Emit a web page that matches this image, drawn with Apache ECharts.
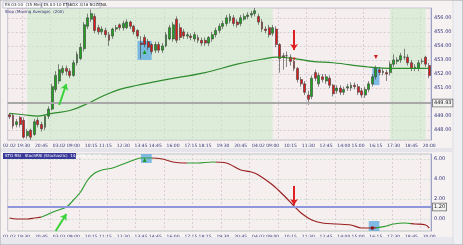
<!DOCTYPE html>
<html><head><meta charset="utf-8">
<script src="https://cdn.jsdelivr.net/npm/echarts@6/dist/echarts.min.js"></script>
<style>html,body{margin:0;padding:0;background:#fff}#c{width:463px;height:245px}</style>
</head><body><div id="c"></div>
<script>
// sessions of 15-minute bars: [date, first bar minute, last bar minute]
const sessions = [['02.02', 1110, 1305], ['03.02', 480, 1305], ['04.02', 480, 1200]];
const categories = [];
sessions.forEach(([d, a, b]) => { for (let m = a; m <= b; m += 15) categories.push(d + ' ' + String(Math.floor(m / 60)).padStart(2, '0') + ':' + String(m % 60).padStart(2, '0')); });

const tickTimes = ['02.02 18:30','02.02 19:30','02.02 20:45','03.02 08:00','03.02 09:00','03.02 10:15','03.02 11:15','03.02 12:30','03.02 13:45','03.02 14:45','03.02 16:00','03.02 17:15','03.02 18:15','03.02 19:30','03.02 20:45','04.02 08:00','04.02 09:00','04.02 10:15','04.02 11:30','04.02 12:45','04.02 14:00','04.02 15:00','04.02 16:15','04.02 17:30','04.02 18:45','04.02 20:00'];
const dateTicks = ['02.02 18:30','03.02 08:00','04.02 08:00'];

const opens  = [449.1,449.05,448.4,448.9,448.7,447.6,448.0,447.7,448.7,448.4,448.2,449.0,449.5,450.9,451.5,452.1,452.4,452.2,451.9,452.8,453.1,453.8,455.4,455.9,456.1,455.3,455.0,455.1,454.8,454.7,455.2,455.5,455.3,455.3,455.7,455.4,455.1,454.2,454.6,454.3,454.1,453.7,454.1,453.7,454.0,454.5,454.5,455.9,455.3,455.0,454.7,454.7,454.5,454.6,454.4,454.4,454.2,454.5,454.8,455.1,455.4,455.6,455.8,456.0,455.7,455.6,455.9,456.1,456.2,456.3,456.1,455.7,455.2,455.3,454.9,455.2,454.1,453.3,453.3,453.2,452.9,452.4,451.6,451.3,450.5,450.4,452.1,451.3,451.8,451.5,451.7,451.2,450.8,451.0,450.7,451.0,451.0,451.2,451.1,450.8,450.5,450.9,451.3,451.8,452.3,452.1,452.1,452.1,452.7,452.9,453.0,453.2,453.2,452.8,452.4,452.4,452.9,453.2,452.6];
const closes = [448.95,448.3,448.6,448.4,447.5,447.9,447.5,448.6,448.4,448.1,449.0,449.5,451.1,451.9,452.3,452.4,452.2,451.9,452.8,453.4,453.9,455.5,456.0,456.3,455.1,455.0,455.2,454.8,454.4,455.2,455.3,455.3,455.6,455.7,455.4,455.0,454.7,454.1,454.1,453.9,453.6,454.1,453.7,454.0,454.8,455.3,455.5,454.4,454.6,454.7,454.8,454.6,454.8,454.4,454.2,454.2,454.6,454.8,455.1,455.4,455.6,456.0,456.1,455.6,455.5,456.0,456.1,456.2,456.3,456.5,455.7,455.2,455.1,454.8,455.3,454.1,453.1,453.2,453.3,452.9,452.4,451.6,451.3,450.7,450.2,451.7,451.7,451.9,451.6,451.8,451.2,450.6,451.0,450.7,450.9,451.1,451.2,451.1,450.7,450.5,450.9,451.3,451.8,452.4,452.1,452.2,452.0,452.7,453.0,453.0,453.3,453.2,452.8,452.4,452.5,452.8,452.9,452.7,451.9];
const highs  = [449.2,449.2,448.8,449.0,448.9,448.1,448.1,448.8,448.9,448.6,449.1,449.7,451.3,452.2,452.7,452.6,452.6,452.4,453.0,453.6,454.2,455.7,456.3,456.6,456.3,455.5,455.4,455.3,455.0,455.3,455.5,455.6,455.8,455.9,455.8,455.5,455.2,454.7,454.8,454.5,454.2,454.3,454.3,454.2,455.0,455.5,455.7,456.1,455.6,455.2,455.0,454.9,455.0,454.8,454.6,454.6,454.7,455.0,455.3,455.6,455.8,456.2,456.3,456.2,455.9,456.2,456.3,456.4,456.5,456.7,456.3,455.9,455.4,455.5,455.5,455.4,454.2,453.5,453.6,453.4,453.0,452.5,451.8,451.5,450.8,451.9,452.3,452.1,452.0,452.0,451.9,451.3,451.2,451.2,451.1,451.3,451.4,451.4,451.3,451.0,451.1,451.5,452.0,452.6,452.5,452.4,452.3,452.9,453.4,453.2,453.5,453.8,453.4,453.0,452.7,453.0,453.1,453.3,452.8];
const lows   = [448.8,448.1,448.2,448.2,447.4,447.4,447.3,447.6,448.2,447.9,448.0,448.8,449.4,450.7,451.3,451.9,451.9,451.7,451.8,452.6,453.0,453.6,455.2,455.7,454.9,454.8,454.8,454.6,454.0,454.5,455.0,455.1,455.1,455.2,455.2,454.8,454.5,453.1,453.9,453.7,453.4,453.5,453.5,453.5,453.9,454.4,454.3,454.2,454.4,454.5,454.5,454.4,454.3,454.2,454.0,454.0,454.0,454.3,454.6,454.9,455.2,455.4,455.6,455.4,455.3,455.4,455.8,455.9,456.0,456.1,455.5,455.0,454.9,454.6,454.7,453.9,452.1,452.3,452.5,452.6,452.2,451.4,451.1,450.5,449.8,450.2,451.5,451.1,451.4,451.3,451.0,450.4,450.6,450.5,450.5,450.8,450.8,450.9,450.5,450.3,450.3,450.7,451.1,451.6,451.9,451.9,451.5,451.9,452.5,452.7,452.8,453.0,452.6,452.2,452.2,452.2,452.7,452.5,451.7];

// moving average, read at selected bars: [bar index, value]
const maPoints = [[0,449.2],[4,449.1],[8,449.0],[12,449.2],[17,449.4],[22,449.9],[26,450.4],[31,450.9],[36,451.2],[40,451.4],[44,451.6],[55,452.1],[64,452.7],[72,453.1],[75,453.2],[80,453.1],[85,452.9],[91,452.8],[101,452.5],[108,452.4],[118,452.4]];

// oscillator in lower panel: [bar index, value]
const oscPoints = [[0,0.1],[2,0.0],[5,0.0],[7,0.1],[9,0.2],[11,0.5],[13,0.8],[16,1.2],[18,1.9],[20,2.7],[22,3.9],[24,4.6],[26,4.9],[29,5.1],[32,5.5],[35,5.9],[37,6.1],[40,6.1],[43,6.0],[46,5.7],[49,5.6],[53,5.6],[57,5.7],[61,5.6],[65,4.9],[68,4.7],[70,4.4],[74,3.4],[77,2.4],[80,1.3],[82,0.6],[85,-0.1],[88,-0.4],[92,-0.5],[96,-0.6],[99,-0.9],[102,-0.9],[106,-0.7],[108,-0.5],[111,-0.4],[114,-0.5],[117,-0.6],[118,-0.9]];
// rising / falling segments of the oscillator (bar index ranges)
const oscSegments = [[0,9,'down'],[9,40,'up'],[40,50,'down'],[50,58,'up'],[58,103,'down'],[103,113,'up'],[113,119,'down']];

const greenZones = [[5,74],[107,117]];
const priceLevel = 449.93;
const oscLevel = 1.2;

const tickSet = new Set(tickTimes), dateSet = new Set(dateTicks);
const FONT = 'DejaVu Sans';
const labelColor = '#34347a';
const C = (i) => categories[i];

const candleData = opens.map((o, i) => [o, closes[i], lows[i], highs[i]]);
const lastClose = closes[closes.length - 1];
const lastOsc = oscPoints[oscPoints.length - 1][1];

const xCommon = (gi) => ({
  type: 'category', gridIndex: gi, data: categories, boundaryGap: true,
  axisLine: { show: false }, axisTick: { show: false },
  axisLabel: { interval: (i, v) => tickSet.has(v), formatter: v => dateSet.has(v) ? v.slice(0, 5) : v.slice(6), fontSize: 4.5, color: labelColor, margin: 3, fontFamily: FONT },
  splitLine: { show: true, interval: (i) => i % 8 === 4, lineStyle: { color: '#d9cfd2', type: [2, 2], width: 1 } }
});

const boxLabel = (txt, border) => ({ show: true, position: 'end', formatter: txt, fontSize: 5, color: '#222', backgroundColor: '#f2f2f2', borderColor: border, borderWidth: 0.8, padding: [1, 1], fontFamily: FONT, distance: 2 });

const option = {
  animation: false,
  backgroundColor: '#f6f2f2',
  grid: [
    { left: 3, top: 8, width: 428, height: 132, show: true, backgroundColor: '#f5eeee', borderColor: '#b8b8c8', borderWidth: 0.8 },
    { left: 3, top: 154, width: 428, height: 77, show: true, backgroundColor: '#f5efef', borderColor: '#b8b8c8', borderWidth: 0.8 }
  ],
  xAxis: [xCommon(0), xCommon(1)],
  yAxis: [
    { type: 'value', gridIndex: 0, position: 'right', min: 447.3, max: 456.7, minInterval: 1, maxInterval: 1, scale: true,
      axisLine: { show: true, lineStyle: { color: '#9aa0c8' } }, axisTick: { show: false },
      axisLabel: { fontSize: 5, color: labelColor, margin: 3, formatter: v => v.toFixed(2), showMinLabel: false, showMaxLabel: false, fontFamily: FONT },
      splitLine: { lineStyle: { color: '#d6cccf', type: [2, 2] } } },
    { type: 'value', gridIndex: 1, position: 'right', min: -1.2, max: 6.5, minInterval: 2, maxInterval: 2,
      axisLine: { show: true, lineStyle: { color: '#9aa0c8' } }, axisTick: { show: false },
      axisLabel: { fontSize: 5, color: labelColor, margin: 3, formatter: v => v.toFixed(2), showMinLabel: false, showMaxLabel: false, fontFamily: FONT },
      splitLine: { lineStyle: { color: '#cfe0cf', type: [2, 2] } } }
  ],
  visualMap: [{
    type: 'piecewise', show: false, seriesIndex: 2, dimension: 0,
    pieces: oscSegments.map(([a, b, t]) => ({ gte: a, lt: b, color: t === 'up' ? '#2f9a2f' : '#9a2020' }))
  }],
  series: [
    {
      type: 'candlestick', xAxisIndex: 0, yAxisIndex: 0, data: candleData, barWidth: 2.4,
      itemStyle: { color: '#1aa51a', color0: '#e01818', borderColor: '#3a3a3a', borderColor0: '#3a3a3a', borderWidth: 0.6 },
      markArea: { silent: true, data: [
        ...greenZones.map(([a, b]) => [{ xAxis: C(a), itemStyle: { color: 'rgba(200,235,200,0.55)' } }, { xAxis: C(b) }]),
        [{ coord: [36, 454.36], itemStyle: { color: 'rgba(90,170,225,0.75)' } }, { coord: [40, 453.0] }],
        [{ coord: [102, 452.43], itemStyle: { color: 'rgba(90,170,225,0.75)' } }, { coord: [104, 451.21] }]
      ] },
      markLine: { silent: true, symbol: 'none', data: [
        { yAxis: priceLevel, lineStyle: { color: '#a8a8a8', width: 2, type: 'solid' }, label: boxLabel(priceLevel.toFixed(2), '#666') },
        { yAxis: lastClose, lineStyle: { opacity: 0 }, label: boxLabel(lastClose.toFixed(2), '#222') },
        [{ coord: [14, 449.79], symbol: 'none', lineStyle: { color: '#3ad23a', width: 2, type: 'solid' }, label: { show: false } }, { coord: [16, 451.29], symbol: 'arrow', symbolSize: 6 }],
        [{ coord: [80, 455.14], symbol: 'none', lineStyle: { color: '#e02020', width: 2, type: 'solid' }, label: { show: false } }, { coord: [80, 453.71], symbol: 'arrow', symbolSize: 6 }]
      ] },
      markPoint: { silent: true, label: { show: false }, data: [
        { coord: [38, 453.57], symbol: 'triangle', symbolSize: 4, itemStyle: { color: '#1a9a1a' } },
        { coord: [103, 453.21], symbol: 'triangle', symbolRotate: 180, symbolSize: 4, itemStyle: { color: '#d02020' } },
        { coord: [80, 453.07], symbol: 'triangle', symbolRotate: 180, symbolSize: 3, itemStyle: { color: '#d02020' } }
      ] }
    },
    {
      type: 'line', xAxisIndex: 0, yAxisIndex: 0, data: maPoints, smooth: 0.4, symbol: 'none',
      lineStyle: { color: '#2e8b2e', width: 1.2 }, z: 3
    },
    {
      type: 'line', xAxisIndex: 1, yAxisIndex: 1, data: oscPoints, smooth: 0.3, symbol: 'none',
      lineStyle: { width: 1.2 },
      markArea: { silent: true, data: [
        [{ coord: [37, 6.5], itemStyle: { color: 'rgba(90,170,225,0.75)' } }, { coord: [40, 5.6] }],
        [{ coord: [101, -0.2], itemStyle: { color: 'rgba(90,170,225,0.75)' } }, { coord: [104, -1.2] }]
      ] },
      markLine: { silent: true, symbol: 'none', data: [
        { yAxis: oscLevel, lineStyle: { color: '#8e96dc', width: 2, type: 'solid' }, label: boxLabel(oscLevel.toFixed(2), '#666') },
        { yAxis: lastOsc, lineStyle: { opacity: 0 }, label: boxLabel(lastOsc.toFixed(2), '#222') },
        [{ coord: [13, -1.2], symbol: 'none', lineStyle: { color: '#3ad23a', width: 2, type: 'solid' }, label: { show: false } }, { coord: [16, 0.5], symbol: 'arrow', symbolSize: 6 }],
        [{ coord: [80, 3.3], symbol: 'none', lineStyle: { color: '#e02020', width: 2, type: 'solid' }, label: { show: false } }, { coord: [80, 1.4], symbol: 'arrow', symbolSize: 6 }]
      ] },
      markPoint: { silent: true, label: { show: false }, data: [
        { coord: [38, 5.9], symbol: 'triangle', symbolSize: 4, itemStyle: { color: '#1a9a1a' } },
        { coord: [102, -0.9], symbol: 'rect', symbolSize: 3, itemStyle: { color: '#8a1010' } }
      ] }
    }
  ],
  graphic: [
    { type: 'rect', shape: { x: 0, y: 0, width: 463, height: 245 }, style: { fill: 'none', stroke: '#a8a8a8', lineWidth: 1 }, silent: true, z: 100 },
    { type: 'rect', shape: { x: 0, y: 148, width: 452, height: 4 }, style: { fill: '#e4e4ea' }, silent: true, z: 5 },
    { type: 'rect', shape: { x: 0, y: 237, width: 463, height: 8 }, style: { fill: '#e8e8ee' }, silent: true, z: 5 },
    { type: 'rect', shape: { x: 453, y: 0, width: 10, height: 245 }, style: { fill: '#f0f0f4', stroke: '#c8c8d0', lineWidth: 0.5 }, silent: true, z: 5 },
    { type: 'rect', shape: { x: 3, y: 2, width: 38, height: 6 }, style: { fill: '#ffffff', stroke: '#8c8cb0', lineWidth: 0.5 }, z: 20 },
    { type: 'text', left: 5, top: 2.5, style: { text: 'ES 03-10  (15 Min)', fontSize: 4, fill: '#222', fontFamily: FONT }, z: 21 },
    { type: 'rect', shape: { x: 42, y: 2, width: 25, height: 6 }, style: { fill: '#ffffff', stroke: '#8c8cb0', lineWidth: 0.5 }, z: 20 },
    { type: 'text', left: 43.5, top: 2.5, style: { text: 'ES 03-10 ETH', fontSize: 4, fill: '#222', fontFamily: FONT }, z: 21 },
    { type: 'rect', shape: { x: 68, y: 2, width: 32, height: 6 }, style: { fill: '#ffffff', stroke: '#8c8cb0', lineWidth: 0.5 }, z: 20 },
    { type: 'text', left: 69.5, top: 2.5, style: { text: 'ADX 3/16 BOZENA', fontSize: 4, fill: '#222', fontFamily: FONT }, z: 21 },
    { type: 'text', left: 5, top: 9.5, style: { text: 'Stop (Moving Average)  (200)', fontSize: 4, fill: '#303070', fontFamily: FONT }, z: 21 },
    { type: 'rect', shape: { x: 3, y: 153, width: 73, height: 6 }, style: { fill: '#3a3a9a' }, z: 20 },
    { type: 'text', left: 5, top: 153.7, style: { text: 'STO RSI   StochRSI (Stochastic)  14, 200, 3, 3, 3', fontSize: 4, fill: '#ffffff', fontFamily: FONT }, z: 21 }
  ]
};
echarts.init(document.getElementById('c'), null, { renderer: 'canvas' }).setOption(option);
</script></body></html>
